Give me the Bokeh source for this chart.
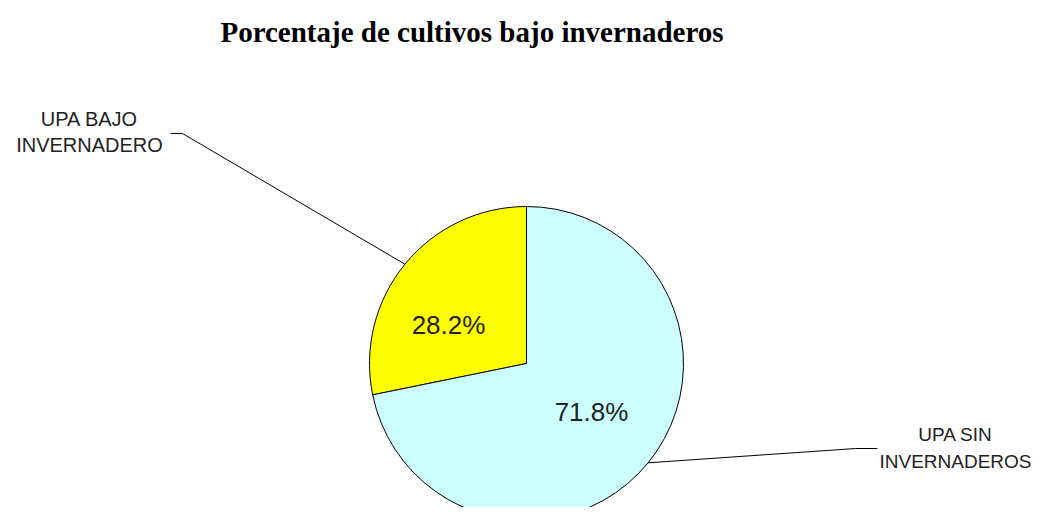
import math
from bokeh.plotting import figure
from bokeh.models import Range1d, ColumnDataSource
from bokeh.core.properties import value
from bokeh.embed import file_html
from bokeh.resources import INLINE

# Data
categories = ["UPA BAJO\nINVERNADERO", "UPA SIN\nINVERNADEROS"]
percents = [28.2, 71.8]
colors = ["#FFFF00", "#CCFFFF"]
title_text = "Porcentaje de cultivos bajo invernaderos"

W, H = 1038, 507
p = figure(width=W, height=H, output_backend="svg", toolbar_location=None,
           x_range=Range1d(0, W), y_range=Range1d(-H, 0),
           min_border=0, outline_line_color=None)
p.axis.visible = False
p.grid.visible = False
p.background_fill_color = "white"
p.border_fill_color = "white"

cx, cy, r = 526, -363, 157
total = sum(percents)
starts, ends, mids = [], [], []
a = math.pi / 2
for v in percents:
    da = 2 * math.pi * v / total
    starts.append(a)
    ends.append(a + da)
    mids.append(a + da / 2)
    a += da

src = ColumnDataSource(dict(start=starts, end=ends, color=colors))
p.wedge(x=cx, y=cy, radius=r, start_angle="start", end_angle="end",
        fill_color="color", line_color="black", line_width=1, source=src)

# percent labels inside
p.text(x=[448, 591], y=[-324, -411], text=[f"{v:.1f}%" for v in percents],
       text_font=value("Liberation Sans"), text_font_size="26px",
       text_align="center", text_baseline="middle", text_color="#222222")

# leader lines
ex = [cx + r * math.cos(m) for m in mids]
ey = [cy + r * math.sin(m) for m in mids]
p.line(x=[170, 182, ex[0]], y=[-133, -133, ey[0]], line_color="black", line_width=1)
p.line(x=[ex[1], 855, 877], y=[ey[1], -448, -448], line_color="black", line_width=1)

# category labels
p.text(x=[89, 89], y=[-118, -144], text=categories[0].split("\n"),
       text_font=value("Liberation Sans"), text_font_size="20px",
       text_align="center", text_baseline="middle", text_color="#222222")
p.text(x=[955, 955], y=[-434, -461], text=categories[1].split("\n"),
       text_font=value("Liberation Sans"), text_font_size="19px",
       text_align="center", text_baseline="middle", text_color="#222222")

# title
p.text(x=[471.5], y=[-31], text=[title_text],
       text_font=value("Liberation Serif"), text_font_style="bold",
       text_font_size="29px", text_align="center", text_baseline="middle",
       text_color="black")

open("out.html", "w").write(file_html(p, INLINE))
